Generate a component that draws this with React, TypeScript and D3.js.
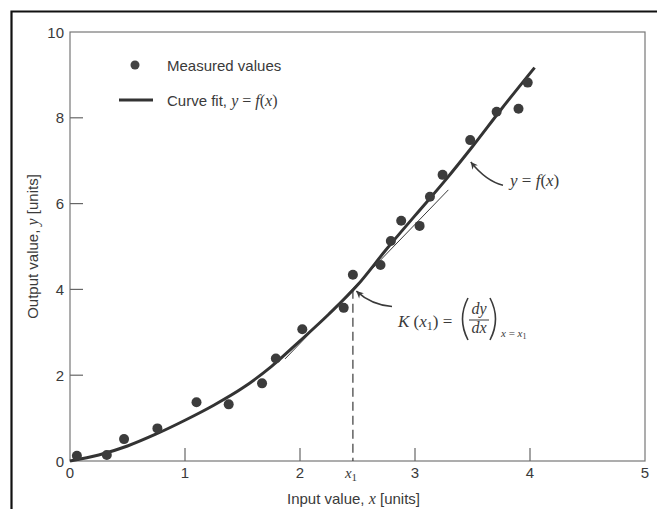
import React, { useEffect, useRef } from 'react';
import * as d3 from 'd3';

// measured data points
const measuredX = [0.06, 0.32, 0.47, 0.76, 1.1, 1.38, 1.67, 1.79, 2.02, 2.38, 2.46, 2.7, 2.79, 2.88, 3.04, 3.13, 3.24, 3.48, 3.71, 3.9, 3.98];
const measuredY = [0.12, 0.14, 0.51, 0.76, 1.37, 1.32, 1.81, 2.39, 3.07, 3.57, 4.34, 4.57, 5.13, 5.6, 5.48, 6.16, 6.67, 7.48, 8.14, 8.21, 8.82];

// curve fit y = f(x)
const fitX = [0, 0.25, 0.5, 0.75, 1, 1.25, 1.5, 1.75, 2, 2.25, 2.5, 2.75, 3, 3.25, 3.5, 3.75, 4.04];
const fitY = [0, 0.14, 0.35, 0.63, 0.95, 1.3, 1.7, 2.2, 2.8, 3.42, 4.1, 4.93, 5.72, 6.5, 7.33, 8.2, 9.17];

// tangent at x1
const tangentX = [1.87, 3.29];
const tangentY = [2.38, 6.32];
const x1 = 2.46;
const y1 = 3.99;

const xTicks = [1, 2, 3, 4];
const xLabels = [0, 1, 2, 3, 4, 5];
const yTicks = [2, 4, 6, 8];
const yLabels = [0, 2, 4, 6, 8, 10];

const SANS = 'Liberation Sans, Arial, sans-serif';
const SERIF = 'Liberation Serif, Times New Roman, serif';
const INK = '#3a3a3a';

const App = () => {
  const svgRef = useRef<SVGSVGElement>(null);

  useEffect(() => {
    const W = 657;
    const H = 509;
    const svg = d3.select(svgRef.current).attr('width', W).attr('height', H);
    svg.selectAll('*').remove();

    const x = d3.scaleLinear().domain([0, 5]).range([70, 645]);
    const y = d3.scaleLinear().domain([0, 10]).range([461, 32]);

    svg.append('rect').attr('width', W).attr('height', H).attr('fill', '#fff');

    // outer frame: only top and left edges are in view
    svg
      .append('path')
      .attr('d', `M11.5,${H} L11.5,11.5 L${W},11.5`)
      .attr('fill', 'none')
      .attr('stroke', '#111')
      .attr('stroke-width', 2.2);

    const defs = svg.append('defs');
    defs
      .append('marker')
      .attr('id', 'arr')
      .attr('viewBox', '0 0 10 10')
      .attr('refX', 10)
      .attr('refY', 5)
      .attr('markerWidth', 9)
      .attr('markerHeight', 7)
      .attr('markerUnits', 'userSpaceOnUse')
      .attr('orient', 'auto')
      .append('path')
      .attr('d', 'M0,0 L10,5 L0,10 L3,5 z')
      .attr('fill', INK);

    // plot box
    svg
      .append('rect')
      .attr('x', x(0))
      .attr('y', y(10))
      .attr('width', x(5) - x(0))
      .attr('height', y(0) - y(10))
      .attr('fill', 'none')
      .attr('stroke', '#777')
      .attr('stroke-width', 1.2);

    // ticks (inward)
    svg
      .selectAll('.xt')
      .data(xTicks)
      .enter()
      .append('line')
      .attr('x1', d => x(d))
      .attr('x2', d => x(d))
      .attr('y1', y(0))
      .attr('y2', y(0) - 13)
      .attr('stroke', '#666')
      .attr('stroke-width', 1.2);

    svg
      .selectAll('.yt')
      .data(yTicks)
      .enter()
      .append('line')
      .attr('x1', x(0))
      .attr('x2', x(0) + 13)
      .attr('y1', d => y(d))
      .attr('y2', d => y(d))
      .attr('stroke', '#666')
      .attr('stroke-width', 1.2);

    // tick labels
    svg
      .selectAll('.xl')
      .data(xLabels)
      .enter()
      .append('text')
      .attr('x', d => x(d))
      .attr('y', 478)
      .attr('text-anchor', 'middle')
      .style('font-family', SANS)
      .style('font-size', '15px')
      .attr('fill', INK)
      .text(d => d);

    svg
      .selectAll('.yl')
      .data(yLabels)
      .enter()
      .append('text')
      .attr('x', 64)
      .attr('y', d => y(d) + 5.5)
      .attr('text-anchor', 'end')
      .style('font-family', SANS)
      .style('font-size', '15px')
      .attr('fill', INK)
      .text(d => d);

    // x1 label
    const x1t = svg
      .append('text')
      .attr('x', x(x1) - 8)
      .attr('y', 478)
      .style('font-family', SERIF)
      .style('font-size', '15px')
      .attr('fill', INK);
    x1t.append('tspan').style('font-style', 'italic').text('x');
    x1t.append('tspan').attr('dy', 3).style('font-size', '11px').text('1');

    // axis titles
    const xt = svg
      .append('text')
      .attr('x', (x(0) + x(5)) / 2 - 4)
      .attr('y', 504)
      .attr('text-anchor', 'middle')
      .style('font-family', SANS)
      .style('font-size', '15px')
      .attr('fill', INK);
    xt.append('tspan').text('Input value, ');
    xt.append('tspan').style('font-family', SERIF).style('font-style', 'italic').style('font-size', '16px').text('x');
    xt.append('tspan').text(' [units]');

    const yt = svg
      .append('text')
      .attr('transform', `translate(38, ${(y(0) + y(10)) / 2}) rotate(-90)`)
      .attr('text-anchor', 'middle')
      .style('font-family', SANS)
      .style('font-size', '15px')
      .attr('fill', INK);
    yt.append('tspan').text('Output value, ');
    yt.append('tspan').style('font-family', SERIF).style('font-style', 'italic').style('font-size', '16px').text('y');
    yt.append('tspan').text(' [units]');

    // dashed line at x1
    svg
      .append('line')
      .attr('x1', x(x1))
      .attr('x2', x(x1))
      .attr('y1', y(y1))
      .attr('y2', y(0))
      .attr('stroke', INK)
      .attr('stroke-width', 1.2)
      .attr('stroke-dasharray', '9,5');

    // tangent line
    svg
      .append('line')
      .attr('x1', x(tangentX[0]))
      .attr('y1', y(tangentY[0]))
      .attr('x2', x(tangentX[1]))
      .attr('y2', y(tangentY[1]))
      .attr('stroke', INK)
      .attr('stroke-width', 1);

    // curve fit
    const fit = fitX.map((d, i) => [d, fitY[i]] as [number, number]);
    const line = d3
      .line<[number, number]>()
      .x(d => x(d[0]))
      .y(d => y(d[1]))
      .curve(d3.curveMonotoneX);
    svg
      .append('path')
      .attr('d', line(fit))
      .attr('fill', 'none')
      .attr('stroke', '#333')
      .attr('stroke-width', 3);

    // measured points
    svg
      .selectAll('.pt')
      .data(measuredX)
      .enter()
      .append('circle')
      .attr('cx', d => x(d))
      .attr('cy', (_, i) => y(measuredY[i]))
      .attr('r', 5)
      .attr('fill', '#3c3c3c');

    // legend
    svg.append('circle').attr('cx', 135).attr('cy', 65).attr('r', 4.5).attr('fill', '#444');
    svg
      .append('line')
      .attr('x1', 119)
      .attr('x2', 153)
      .attr('y1', 100)
      .attr('y2', 100)
      .attr('stroke', '#333')
      .attr('stroke-width', 3);
    svg
      .append('text')
      .attr('x', 167)
      .attr('y', 70.5)
      .style('font-family', SANS)
      .style('font-size', '15px')
      .attr('fill', INK)
      .text('Measured values');
    const lg = svg
      .append('text')
      .attr('x', 167)
      .attr('y', 105.5)
      .style('font-family', SANS)
      .style('font-size', '15px')
      .attr('fill', INK);
    lg.append('tspan').text('Curve fit, ');
    lg.append('tspan').style('font-family', SERIF).style('font-style', 'italic').style('font-size', '16px').text('y');
    lg.append('tspan').style('font-family', SERIF).style('font-size', '16px').text(' = ');
    lg.append('tspan').style('font-family', SERIF).style('font-style', 'italic').style('font-size', '16px').text('f');
    lg.append('tspan').style('font-family', SERIF).style('font-size', '16px').text('(');
    lg.append('tspan').style('font-family', SERIF).style('font-style', 'italic').style('font-size', '16px').text('x');
    lg.append('tspan').style('font-family', SERIF).style('font-size', '16px').text(')');

    // annotation arrows
    const arrow = (s: number[], c: number[], t: number[]) =>
      `M${x(s[0])},${y(s[1])} Q${x(c[0])},${y(c[1])} ${x(t[0])},${y(t[1])}`;
    svg
      .append('path')
      .attr('d', arrow([3.765, 6.43], [3.62, 6.52], [3.485, 6.97]))
      .attr('fill', 'none')
      .attr('stroke', INK)
      .attr('stroke-width', 1.5)
      .attr('marker-end', 'url(#arr)');
    svg
      .append('path')
      .attr('d', arrow([2.8, 3.6], [2.62, 3.64], [2.49, 3.96]))
      .attr('fill', 'none')
      .attr('stroke', INK)
      .attr('stroke-width', 1.5)
      .attr('marker-end', 'url(#arr)');

    // y = f(x) label
    const fl = svg
      .append('text')
      .attr('x', 510)
      .attr('y', 186)
      .style('font-family', SERIF)
      .style('font-size', '17px')
      .attr('fill', INK);
    fl.append('tspan').style('font-style', 'italic').text('y');
    fl.append('tspan').text(' = ');
    fl.append('tspan').style('font-style', 'italic').text('f');
    fl.append('tspan').text('(');
    fl.append('tspan').style('font-style', 'italic').text('x');
    fl.append('tspan').text(')');

    // K(x1) label
    const kl = svg
      .append('text')
      .attr('x', 398)
      .attr('y', 327)
      .style('font-family', SERIF)
      .style('font-size', '17px')
      .attr('fill', INK);
    kl.append('tspan').style('font-style', 'italic').text('K');
    kl.append('tspan').text(' (');
    kl.append('tspan').style('font-style', 'italic').text('x');
    kl.append('tspan').attr('dy', 3).style('font-size', '12px').text('1');
    kl.append('tspan').attr('dy', -3).text(') =');

    // tall parentheses around dy/dx
    svg
      .append('path')
      .attr('d', 'M468,298 Q457,319 468,340')
      .attr('fill', 'none')
      .attr('stroke', INK)
      .attr('stroke-width', 1.6);
    svg
      .append('path')
      .attr('d', 'M490,298 Q501,319 490,340')
      .attr('fill', 'none')
      .attr('stroke', INK)
      .attr('stroke-width', 1.6);

    svg
      .append('text')
      .attr('x', 479)
      .attr('y', 314)
      .attr('text-anchor', 'middle')
      .style('font-family', SERIF)
      .style('font-style', 'italic')
      .style('font-size', '16px')
      .attr('fill', INK)
      .text('dy');
    svg
      .append('line')
      .attr('x1', 469)
      .attr('x2', 489)
      .attr('y1', 320)
      .attr('y2', 320)
      .attr('stroke', INK)
      .attr('stroke-width', 1);
    svg
      .append('text')
      .attr('x', 479)
      .attr('y', 333)
      .attr('text-anchor', 'middle')
      .style('font-family', SERIF)
      .style('font-style', 'italic')
      .style('font-size', '16px')
      .attr('fill', INK)
      .text('dx');

    const sub = svg
      .append('text')
      .attr('x', 501)
      .attr('y', 337)
      .style('font-family', SERIF)
      .style('font-size', '11px')
      .attr('fill', INK);
    sub.append('tspan').style('font-style', 'italic').text('x');
    sub.append('tspan').text(' = ');
    sub.append('tspan').style('font-style', 'italic').text('x');
    sub.append('tspan').attr('dy', 2).style('font-size', '8px').text('1');
  }, []);

  return (
    <div style={{ position: 'absolute', left: 0, top: 0 }}>
      <svg ref={svgRef} style={{ display: 'block' }}></svg>
    </div>
  );
};

export default App;
